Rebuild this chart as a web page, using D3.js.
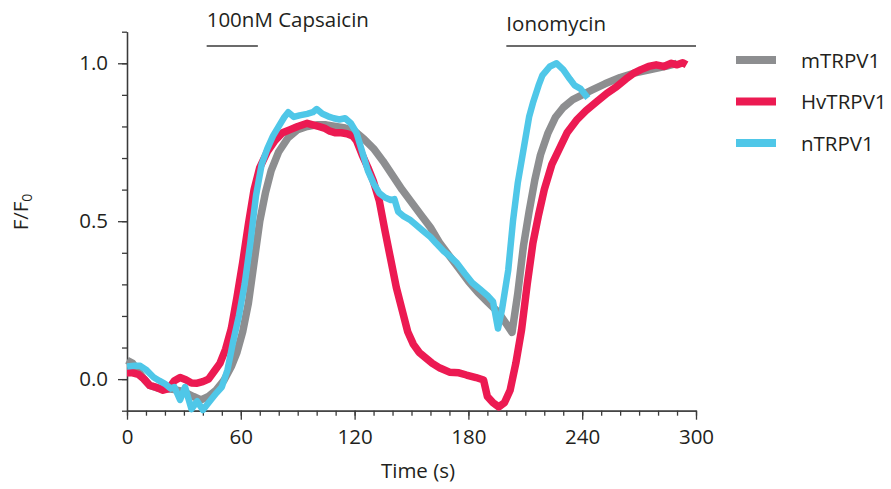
<!DOCTYPE html>
<html>
<head>
<meta charset="utf-8">
<script src="https://cdn.jsdelivr.net/npm/d3@7"></script>
<style>
  body { margin: 0; background: #fff; }
  svg text { font-family: 'Open Sans', sans-serif; fill: #231f20; }
</style>
</head>
<body>
<svg id="chart" width="891" height="489"></svg>
<script>
// Series names and colours (legend order)
const seriesNames = ['mTRPV1', 'HvTRPV1', 'nTRPV1']
const seriesColors = ['#8d8e90', '#ec1a52', '#4fc7e8']

// mTRPV1 (grey)
const timeM = [0, 3, 6, 9, 12, 16, 20, 25, 30, 35, 39, 43, 47, 51, 55, 58, 61, 64, 67, 70, 73, 76, 80, 85, 90, 95, 100, 105, 110, 115, 120, 125, 130, 135, 140, 145, 150, 155, 160, 165, 170, 175, 180, 185, 190, 196, 200, 203, 206, 209, 212, 215, 218, 222, 226, 230, 235, 240, 245, 252, 260, 268, 276, 284, 290]
const valM = [0.06, 0.05, 0.025, 0.0, -0.02, -0.028, -0.03, -0.033, -0.04, -0.055, -0.066, -0.055, -0.035, -0.005, 0.04, 0.085, 0.15, 0.24, 0.37, 0.5, 0.59, 0.66, 0.72, 0.765, 0.79, 0.8, 0.805, 0.805, 0.8, 0.795, 0.785, 0.76, 0.73, 0.69, 0.645, 0.6, 0.56, 0.52, 0.48, 0.43, 0.39, 0.35, 0.31, 0.275, 0.245, 0.21, 0.175, 0.148, 0.27, 0.42, 0.53, 0.63, 0.71, 0.78, 0.83, 0.86, 0.885, 0.9, 0.915, 0.935, 0.955, 0.97, 0.98, 0.99, 1.0]

// HvTRPV1 (red)
const timeHv = [0, 3, 6, 9, 12, 15, 19, 22, 25, 28, 31, 34, 37, 40, 43, 46, 49, 52, 55, 58, 61, 64, 67, 70, 74, 78, 82, 86, 90, 95, 98, 101, 104, 107, 110, 113, 116, 119, 121, 124, 127, 130, 133, 136, 139, 142, 145, 148, 151, 154, 157, 161, 165, 170, 175, 179, 184, 188, 190, 193, 196, 199, 202, 205, 208, 211, 214, 217, 220, 224, 228, 232, 237, 242, 248, 253, 258, 263, 267, 271, 275, 279, 283, 287, 290, 293, 295]
const valHv = [0.02, 0.02, 0.015, 0.0, -0.02, -0.025, -0.035, -0.03, -0.005, 0.005, -0.002, -0.012, -0.013, -0.008, 0.0, 0.025, 0.05, 0.095, 0.16, 0.26, 0.37, 0.49, 0.6, 0.67, 0.72, 0.755, 0.78, 0.79, 0.8, 0.81, 0.805, 0.8, 0.795, 0.785, 0.78, 0.78, 0.777, 0.77, 0.755, 0.71, 0.67, 0.625, 0.565, 0.47, 0.38, 0.29, 0.22, 0.15, 0.11, 0.085, 0.07, 0.05, 0.035, 0.022, 0.02, 0.013, 0.005, -0.003, -0.055, -0.075, -0.088, -0.075, -0.035, 0.05, 0.155, 0.3, 0.43, 0.52, 0.6, 0.68, 0.73, 0.78, 0.82, 0.85, 0.88, 0.905, 0.925, 0.95, 0.968, 0.98, 0.99, 0.995, 0.99, 1.0, 0.995, 1.002, 0.995]

// nTRPV1 (cyan)
const timeN = [0, 4, 7, 10, 14, 17, 20, 23, 25, 28, 30.6, 34, 37, 40, 43, 47, 50, 53, 56, 59, 62, 65, 68, 71, 74, 77, 80, 83, 85, 88, 91, 95, 98, 100, 103, 106, 109, 112, 115, 118, 121, 124, 127, 130, 133, 136, 139, 141, 143, 146, 149, 152, 156, 160, 163, 167, 170, 174, 178, 182, 186, 190, 193, 195.6, 197.7, 201, 203.5, 206, 209, 212, 214, 217, 219, 223, 226.5, 230, 233.5, 236, 239, 243]
const valN = [0.04, 0.042, 0.042, 0.03, 0.006, -0.005, -0.015, -0.03, -0.025, -0.066, -0.025, -0.095, -0.07, -0.098, -0.075, -0.045, -0.025, 0.03, 0.12, 0.2, 0.3, 0.43, 0.58, 0.68, 0.73, 0.77, 0.8, 0.83, 0.845, 0.83, 0.835, 0.84, 0.845, 0.855, 0.84, 0.832, 0.826, 0.822, 0.826, 0.81, 0.78, 0.72, 0.66, 0.62, 0.589, 0.575, 0.567, 0.57, 0.53, 0.515, 0.505, 0.49, 0.47, 0.45, 0.43, 0.405, 0.39, 0.367, 0.335, 0.305, 0.285, 0.265, 0.245, 0.16, 0.22, 0.345, 0.5, 0.62, 0.725, 0.83, 0.874, 0.93, 0.962, 0.99, 1.0, 0.98, 0.95, 0.93, 0.92, 0.89]

// Stimulus annotations
const stimLabels = ['100nM Capsaicin', 'Ionomycin']
const stimStart = [42, 200]
const stimEnd = [69, 300]

// Axis ticks
const xMajorTicks = [0, 60, 120, 180, 240, 300]
const yMajorTicks = [0, 0.5, 1.0]

const svg = d3.select('#chart')
const margin = { top: 31.7, left: 127 }
const width = 569
const height = 379
const fontSize = '20.5px'

const x = d3.scaleLinear().domain([0, 300]).range([0, width])
const y = d3.scaleLinear().domain([-0.1, 1.1]).range([height, 0])

const g = svg.append('g').attr('transform', `translate(${margin.left}, ${margin.top})`)

// minor ticks every 10 s / 0.1
g.append('g')
  .attr('class', 'x-minor')
  .attr('transform', `translate(0, ${height})`)
  .call(d3.axisBottom(x).tickValues(d3.range(0, 301, 10)).tickSize(5).tickSizeOuter(0).tickFormat(''))

g.append('g')
  .attr('class', 'y-minor')
  .call(d3.axisLeft(y).tickValues(d3.range(-1, 12).map((i) => i / 10)).tickSize(5).tickSizeOuter(0).tickFormat(''))

// major ticks with labels
g.append('g')
  .attr('class', 'x-major')
  .attr('transform', `translate(0, ${height})`)
  .call(d3.axisBottom(x).tickValues(xMajorTicks).tickSize(9).tickSizeOuter(0).tickPadding(10))

g.append('g')
  .attr('class', 'y-major')
  .call(d3.axisLeft(y).tickValues(yMajorTicks).tickSize(9).tickSizeOuter(0).tickPadding(10).tickFormat(d3.format('.1f')))

g.selectAll('.domain, .tick line').attr('stroke', '#3a3a3a').attr('stroke-width', 1.3)
g.selectAll('.tick text').style('font-size', fontSize).attr('fill', '#231f20')

// axis titles
g.append('text')
  .attr('x', 291)
  .attr('y', 446)
  .attr('text-anchor', 'middle')
  .style('font-size', fontSize)
  .text('Time (s)')

const yTitle = svg.append('text')
  .attr('transform', 'translate(28, 212) rotate(-90)')
  .attr('text-anchor', 'middle')
  .style('font-size', fontSize)
yTitle.append('tspan').text('F/F')
yTitle.append('tspan').attr('dy', '0.3em').style('font-size', '14px').text('0')

// stimulus bars
stimLabels.forEach((label, i) => {
  g.append('line')
    .attr('x1', x(stimStart[i]))
    .attr('x2', x(stimEnd[i]))
    .attr('y1', 14.3)
    .attr('y2', 14.3)
    .attr('stroke', '#3a3a3a')
    .attr('stroke-width', 1.4)
  g.append('text')
    .attr('x', x(stimStart[i]))
    .attr('y', i === 0 ? -5 : -1)
    .style('font-size', fontSize)
    .text(label)
})

// lines
const seriesData = [
  d3.zip(timeM, valM),
  d3.zip(timeHv, valHv),
  d3.zip(timeN, valN)
]

const line = d3.line()
  .x((d) => x(d[0]))
  .y((d) => y(d[1]))

seriesData.forEach((data, i) => {
  g.append('path')
    .datum(data)
    .attr('d', line)
    .attr('fill', 'none')
    .attr('stroke', seriesColors[i])
    .attr('stroke-width', i === 2 ? 6.5 : 7.5)
    .attr('stroke-linejoin', 'round')
})

// legend
const legend = svg.append('g').attr('transform', 'translate(736, 60)')
seriesNames.forEach((name, i) => {
  const row = legend.append('g').attr('transform', `translate(0, ${i * 41.5})`)
  row.append('line')
    .attr('x1', 0).attr('x2', 40)
    .attr('stroke', seriesColors[i])
    .attr('stroke-width', 8)
  row.append('text')
    .attr('x', 65)
    .attr('y', 7.5)
    .style('font-size', fontSize)
    .text(name)
})
</script>
</body>
</html>
